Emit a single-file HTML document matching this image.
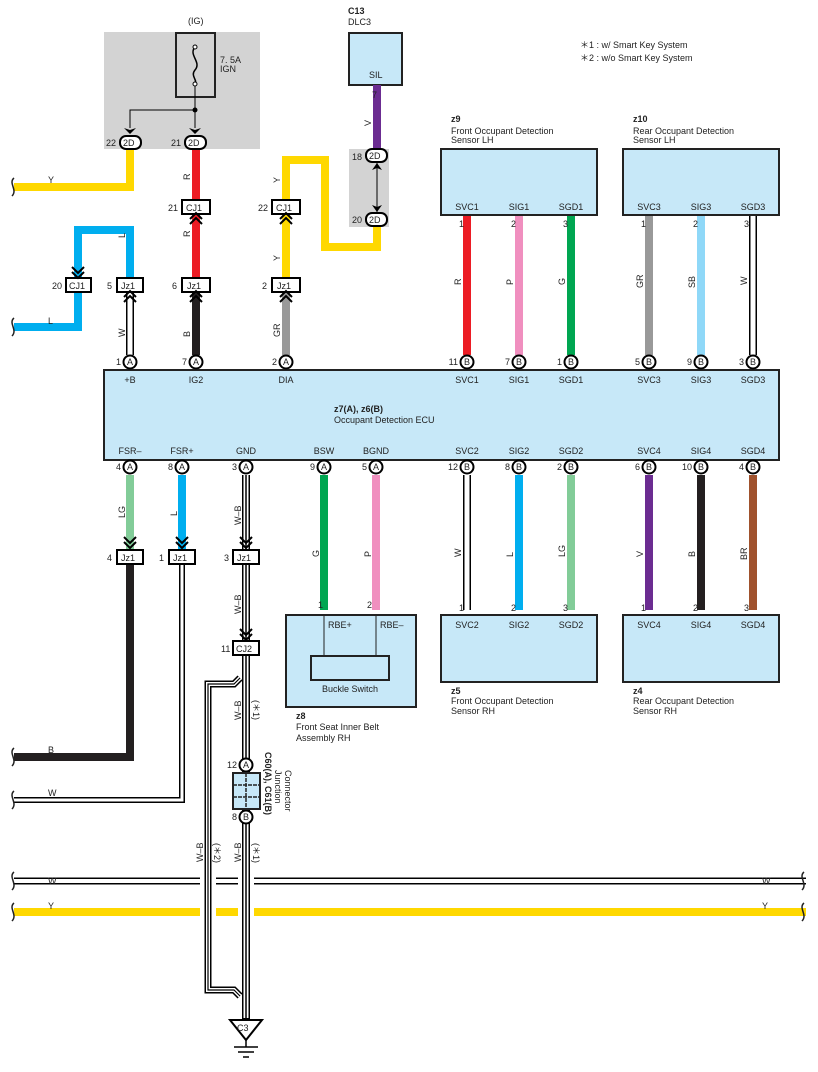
<!DOCTYPE html>
<html><head><style>
body{margin:0;background:#fff}
svg{display:block}
text{font-family:"Liberation Sans",sans-serif;font-size:9px;fill:#222}
</style></head><body>
<svg width="818" height="1072" viewBox="0 0 818 1072" xmlns="http://www.w3.org/2000/svg">
<defs>
<g id="chev"><path d="M-6,-4 L0,2 L6,-4" fill="none" stroke="#000" stroke-width="2"/><path d="M-6,1 L0,7 L6,1" fill="none" stroke="#000" stroke-width="2"/></g>
<g id="chevu"><path d="M-6,4 L0,-2 L6,4" fill="none" stroke="#000" stroke-width="2"/><path d="M-6,9 L0,3 L6,9" fill="none" stroke="#000" stroke-width="2"/></g>
</defs>
<rect x="104" y="32" width="156" height="117" fill="#d3d3d3"/>
<rect x="349" y="149" width="40" height="78" fill="#d3d3d3"/>
<rect x="176" y="33" width="39" height="64" fill="none" stroke="#222" stroke-width="2"/>
<path d="M195,47 C188,55 202,62 195,70 C190,76 198,80 195,84" fill="none" stroke="#000" stroke-width="1.5"/>
<circle cx="195" cy="47" r="2" fill="#fff" stroke="#000"/><circle cx="195" cy="84" r="2" fill="#fff" stroke="#000"/>
<path d="M195,86 V128 M195,110 H130 V128" stroke="#000" stroke-width="1" fill="none"/>
<circle cx="195" cy="110" r="2.5" fill="#000"/>
<path d="M124,128 L130,134 L136,128 L130,130Z M189,128 L195,134 L201,128 L195,130Z" fill="#000"/>
<text x="188" y="24">(IG)</text>
<text x="220" y="63">7. 5A</text><text x="220" y="72">IGN</text>
<text x="348" y="14" font-weight="bold">C13</text><text x="348" y="25">DLC3</text>
<rect x="349" y="33" width="53" height="52" fill="#c7e8f8" stroke="#222" stroke-width="2"/>
<text x="369" y="78">SIL</text>
<text x="580" y="48">＊1 : w/ Smart Key System</text>
<text x="580" y="61">＊2 : w/o Smart Key System</text>

<g fill="none" stroke-width="8" stroke-linejoin="miter">
<path d="M130,149 V187 H14" stroke="#ffd800"/>
<path d="M196,149 V278" stroke="#ec1c24"/>
<path d="M196,292 V355" stroke="#231f20"/>
<path d="M130,278 V230 H78 V327 H14" stroke="#00aeef"/>
<path d="M286,278 V160 H325 V247 H377 V226" stroke="#ffd800"/>
<path d="M377,85 V149" stroke="#6b2c91"/>
<path d="M286,292 V355" stroke="#999"/>
<path d="M467,215 V355" stroke="#ec1c24"/>
<path d="M519,215 V355" stroke="#f08fbf"/>
<path d="M571,215 V355" stroke="#00a651"/>
<path d="M649,215 V355" stroke="#999"/>
<path d="M701,215 V355" stroke="#8fd8f8"/>
<path d="M753,215 V355" stroke="#000"/>
<path d="M130,475 V549" stroke="#82cc98"/>
<path d="M130,565 V757 H14" stroke="#231f20"/>
<path d="M182,475 V549" stroke="#00aeef"/>
<path d="M324,475 V610" stroke="#00a651"/>
<path d="M376,475 V610" stroke="#f08fbf"/>
<path d="M467,475 V610" stroke="#000"/>
<path d="M519,475 V610" stroke="#00aeef"/>
<path d="M571,475 V610" stroke="#82cc98"/>
<path d="M649,475 V610" stroke="#6b2c91"/>
<path d="M701,475 V610" stroke="#231f20"/>
<path d="M753,475 V610" stroke="#a0522d"/>
<path d="M14,912 H806" stroke="#ffd800"/>
<path d="M14,881 H806" stroke="#000" stroke-width="7"/>
<path d="M130,292 V355" stroke="#000"/>
<path d="M182,565 V800 H14" stroke="#000" stroke-width="6"/>
</g>
<g fill="none" stroke="#fff">
<path d="M14,881 H806" stroke-width="4"/>
<path d="M130,292 V355" stroke-width="5"/>
<path d="M753,215 V355" stroke-width="5"/>
<path d="M467,475 V610" stroke-width="5"/>
<path d="M182,565 V800 H14" stroke-width="3"/>
</g>
<!-- W-B ground wires with gaps at crossings -->
<g fill="none">
<path d="M246,860 V935" stroke="#fff" stroke-width="16"/>
<path d="M208,860 V935" stroke="#fff" stroke-width="16"/>
<path d="M246,475 V1020" stroke="#000" stroke-width="8"/>
<path d="M240,678 L234,684 H208 V990 H234 L240,996" stroke="#000" stroke-width="7"/>
<path d="M246,475 V1018" stroke="#fff" stroke-width="5"/>
<path d="M240,678 L234,684 H208 V990 H234 L240,996" stroke="#fff" stroke-width="4"/>
<path d="M246,475 V1020" stroke="#000" stroke-width="1.5"/>
<path d="M240,678 L234,684 H208 V990 H234 L240,996" stroke="#000" stroke-width="1.2"/>
</g>
<g fill="none" stroke="#222" stroke-width="1.5">
<path d="M14,178 C8,183 18,190 12,196"/><path d="M14,318 C8,323 18,330 12,336"/>
<path d="M14,748 C8,753 18,760 12,766"/><path d="M14,791 C8,796 18,803 12,809"/>
<path d="M14,872 C8,877 18,884 12,890"/><path d="M14,903 C8,908 18,915 12,921"/>
<path d="M804,872 C798,877 808,884 802,890"/><path d="M804,903 C798,908 808,915 802,921"/>
</g>
<g stroke="#000" stroke-width="2" fill="#fff">
<rect x="120" y="136" width="21" height="13" rx="6"/>
<rect x="185" y="136" width="21" height="13" rx="6"/>
<rect x="366" y="149" width="21" height="13" rx="6"/>
<rect x="366" y="213" width="21" height="13" rx="6"/>
</g>
<text x="123" y="146">2D</text><text x="188" y="146">2D</text><text x="369" y="159">2D</text><text x="369" y="223">2D</text>
<text x="106" y="146">22</text><text x="171" y="146">21</text><text x="352" y="160">18</text><text x="352" y="223">20</text>
<path d="M377,163 V212" stroke="#000" stroke-width="1"/>
<path d="M372,170 L377,163 L382,170 L377,168Z M372,205 L377,212 L382,205 L377,207Z" fill="#000"/>
<text x="372" y="98">7</text>
<g stroke="#000" stroke-width="2" fill="#fff">
<rect x="182" y="200" width="28" height="14"/>
<rect x="272" y="200" width="28" height="14"/>
<rect x="66" y="278" width="25" height="14"/>
<rect x="117" y="278" width="26" height="14"/>
<rect x="182" y="278" width="28" height="14"/>
<rect x="272" y="278" width="28" height="14"/>
<rect x="117" y="550" width="26" height="14"/>
<rect x="169" y="550" width="26" height="14"/>
<rect x="233" y="550" width="26" height="14"/>
<rect x="233" y="641" width="26" height="14"/>
</g>
<g font-size="10">
<text x="186" y="211">CJ1</text><text x="276" y="211">CJ1</text>
<text x="69" y="289">CJ1</text><text x="121" y="289">Jz1</text><text x="187" y="289">Jz1</text><text x="277" y="289">Jz1</text>
<text x="121" y="561">Jz1</text><text x="173" y="561">Jz1</text><text x="237" y="561">Jz1</text><text x="236" y="652">CJ2</text>
</g>
<text x="168" y="211">21</text><text x="258" y="211">22</text><text x="52" y="289">20</text><text x="107" y="289">5</text><text x="172" y="289">6</text><text x="262" y="289">2</text>
<text x="107" y="561">4</text><text x="159" y="561">1</text><text x="224" y="561">3</text><text x="221" y="652">11</text>
<use href="#chevu" x="196" y="215"/><use href="#chevu" x="286" y="215"/>
<use href="#chevu" x="130" y="293"/><use href="#chevu" x="196" y="293"/><use href="#chevu" x="286" y="293"/>
<use href="#chev" x="78" y="271"/>
<use href="#chev" x="130" y="541"/><use href="#chev" x="182" y="541"/><use href="#chev" x="246" y="541"/><use href="#chev" x="246" y="633"/>
<g font-size="9">
<text transform="translate(190,180) rotate(-90)">R</text>
<text transform="translate(190,237) rotate(-90)">R</text>
<text transform="translate(125,337) rotate(-90)">W</text>
<text transform="translate(190,337) rotate(-90)">B</text>
<text transform="translate(280,337) rotate(-90)">GR</text>
<text transform="translate(280,183) rotate(-90)">Y</text>
<text transform="translate(280,261) rotate(-90)">Y</text>
<text transform="translate(125,238) rotate(-90)">L</text>
<text transform="translate(371,126) rotate(-90)">V</text>
<text x="48" y="183">Y</text><text x="48" y="324">L</text><text x="48" y="753">B</text><text x="48" y="796">W</text>
<text x="48" y="884">W</text><text x="48" y="909">Y</text><text x="762" y="884">W</text><text x="762" y="909">Y</text>
<text transform="translate(461,285) rotate(-90)">R</text>
<text transform="translate(513,285) rotate(-90)">P</text>
<text transform="translate(565,285) rotate(-90)">G</text>
<text transform="translate(643,288) rotate(-90)">GR</text>
<text transform="translate(695,288) rotate(-90)">SB</text>
<text transform="translate(747,285) rotate(-90)">W</text>
<text transform="translate(125,518) rotate(-90)">LG</text>
<text transform="translate(177,516) rotate(-90)">L</text>
<text transform="translate(241,525) rotate(-90)">W–B</text>
<text transform="translate(241,614) rotate(-90)">W–B</text>
<text transform="translate(319,557) rotate(-90)">G</text>
<text transform="translate(371,557) rotate(-90)">P</text>
<text transform="translate(461,557) rotate(-90)">W</text>
<text transform="translate(513,557) rotate(-90)">L</text>
<text transform="translate(565,557) rotate(-90)">LG</text>
<text transform="translate(643,557) rotate(-90)">V</text>
<text transform="translate(695,557) rotate(-90)">B</text>
<text transform="translate(747,560) rotate(-90)">BR</text>
<text transform="translate(241,720) rotate(-90)">W–B</text>
<text transform="translate(253,700) rotate(90)">(＊1)</text>
<text transform="translate(241,862) rotate(-90)">W–B</text>
<text transform="translate(253,843) rotate(90)">(＊1)</text>
<text transform="translate(203,862) rotate(-90)">W–B</text>
<text transform="translate(214,843) rotate(90)">(＊2)</text>
</g>
<g fill="#c7e8f8" stroke="#222" stroke-width="2">
<rect x="441" y="149" width="156" height="66"/>
<rect x="623" y="149" width="156" height="66"/>
<rect x="441" y="615" width="156" height="67"/>
<rect x="623" y="615" width="156" height="67"/>
<rect x="286" y="615" width="130" height="92"/>
<rect x="104" y="370" width="675" height="90"/>
</g>
<rect x="311" y="656" width="78" height="24" fill="none" stroke="#222" stroke-width="2"/>
<path d="M324,615 V656 M376,615 V656" stroke="#222" stroke-width="1"/>
<text x="322" y="692">Buckle Switch</text>
<text x="328" y="628">RBE+</text><text x="380" y="628">RBE–</text>
<text x="318" y="608">1</text><text x="367" y="608">2</text>
<text x="296" y="719" font-weight="bold">z8</text><text x="296" y="730">Front Seat Inner Belt</text><text x="296" y="741">Assembly RH</text>
<text x="451" y="122" font-weight="bold">z9</text><text x="451" y="134">Front Occupant Detection</text><text x="451" y="143">Sensor LH</text>
<text x="633" y="122" font-weight="bold">z10</text><text x="633" y="134">Rear Occupant Detection</text><text x="633" y="143">Sensor LH</text>
<text x="451" y="694" font-weight="bold">z5</text><text x="451" y="704">Front Occupant Detection</text><text x="451" y="714">Sensor RH</text>
<text x="633" y="694" font-weight="bold">z4</text><text x="633" y="704">Rear Occupant Detection</text><text x="633" y="714">Sensor RH</text>
<g text-anchor="middle">
<text x="467" y="210">SVC1</text><text x="519" y="210">SIG1</text><text x="571" y="210">SGD1</text>
<text x="649" y="210">SVC3</text><text x="701" y="210">SIG3</text><text x="753" y="210">SGD3</text>
<text x="467" y="628">SVC2</text><text x="519" y="628">SIG2</text><text x="571" y="628">SGD2</text>
<text x="649" y="628">SVC4</text><text x="701" y="628">SIG4</text><text x="753" y="628">SGD4</text>
<text x="130" y="383">+B</text><text x="196" y="383">IG2</text><text x="286" y="383">DIA</text>
<text x="467" y="383">SVC1</text><text x="519" y="383">SIG1</text><text x="571" y="383">SGD1</text>
<text x="649" y="383">SVC3</text><text x="701" y="383">SIG3</text><text x="753" y="383">SGD3</text>
<text x="130" y="454">FSR–</text><text x="182" y="454">FSR+</text><text x="246" y="454">GND</text>
<text x="324" y="454">BSW</text><text x="376" y="454">BGND</text>
<text x="467" y="454">SVC2</text><text x="519" y="454">SIG2</text><text x="571" y="454">SGD2</text>
<text x="649" y="454">SVC4</text><text x="701" y="454">SIG4</text><text x="753" y="454">SGD4</text>
</g>
<text x="459" y="227">1</text><text x="511" y="227">2</text><text x="563" y="227">3</text>
<text x="641" y="227">1</text><text x="693" y="227">2</text><text x="744" y="227">3</text>
<text x="459" y="611">1</text><text x="511" y="611">2</text><text x="563" y="611">3</text>
<text x="641" y="611">1</text><text x="693" y="611">2</text><text x="744" y="611">3</text>
<text x="334" y="412" font-weight="bold">z7(A), z6(B)</text>
<text x="334" y="423">Occupant Detection ECU</text>
<g stroke="#000" stroke-width="2" fill="#fff">
<circle cx="130" cy="362" r="6.5"/><circle cx="196" cy="362" r="6.5"/><circle cx="286" cy="362" r="6.5"/>
<circle cx="467" cy="362" r="6.5"/><circle cx="519" cy="362" r="6.5"/><circle cx="571" cy="362" r="6.5"/>
<circle cx="649" cy="362" r="6.5"/><circle cx="701" cy="362" r="6.5"/><circle cx="753" cy="362" r="6.5"/>
<circle cx="130" cy="467" r="6.5"/><circle cx="182" cy="467" r="6.5"/><circle cx="246" cy="467" r="6.5"/>
<circle cx="324" cy="467" r="6.5"/><circle cx="376" cy="467" r="6.5"/>
<circle cx="467" cy="467" r="6.5"/><circle cx="519" cy="467" r="6.5"/><circle cx="571" cy="467" r="6.5"/>
<circle cx="649" cy="467" r="6.5"/><circle cx="701" cy="467" r="6.5"/><circle cx="753" cy="467" r="6.5"/>
<circle cx="246" cy="765" r="6.5"/><circle cx="246" cy="817" r="6.5"/>
</g>
<g text-anchor="middle" font-size="8">
<text x="130" y="365">A</text><text x="196" y="365">A</text><text x="286" y="365">A</text>
<text x="467" y="365">B</text><text x="519" y="365">B</text><text x="571" y="365">B</text>
<text x="649" y="365">B</text><text x="701" y="365">B</text><text x="753" y="365">B</text>
<text x="130" y="470">A</text><text x="182" y="470">A</text><text x="246" y="470">A</text>
<text x="324" y="470">A</text><text x="376" y="470">A</text>
<text x="467" y="470">B</text><text x="519" y="470">B</text><text x="571" y="470">B</text>
<text x="649" y="470">B</text><text x="701" y="470">B</text><text x="753" y="470">B</text>
<text x="246" y="768">A</text><text x="246" y="820">B</text>
</g>
<g text-anchor="end">
<text x="121" y="365">1</text><text x="187" y="365">7</text><text x="277" y="365">2</text>
<text x="458" y="365">11</text><text x="510" y="365">7</text><text x="562" y="365">1</text>
<text x="640" y="365">5</text><text x="692" y="365">9</text><text x="744" y="365">3</text>
<text x="121" y="470">4</text><text x="173" y="470">8</text><text x="237" y="470">3</text>
<text x="315" y="470">9</text><text x="367" y="470">5</text>
<text x="458" y="470">12</text><text x="510" y="470">8</text><text x="562" y="470">2</text>
<text x="640" y="470">6</text><text x="692" y="470">10</text><text x="744" y="470">4</text>
<text x="237" y="768">12</text><text x="237" y="820">8</text>
</g>
<rect x="233" y="773" width="27" height="36" fill="#c7e8f8" stroke="#222" stroke-width="2"/>
<path d="M233,785 H260 M233,797 H260 M246,773 V809" stroke="#222" stroke-width="1.5" stroke-dasharray="4,1"/>
<text transform="translate(265,752) rotate(90)" font-weight="bold">C60(A), C61(B)</text>
<text transform="translate(275,770) rotate(90)">Junction</text>
<text transform="translate(285,770) rotate(90)">Connector</text>
<path d="M230,1020 H262 L246,1040 Z" fill="#fff" stroke="#000" stroke-width="2"/>
<text x="237" y="1031">C3</text>
<path d="M246,1040 V1047 M234,1047 H258 M238,1052 H254 M243,1057 H249" stroke="#000" stroke-width="1.5"/>
</svg>
</body></html>
